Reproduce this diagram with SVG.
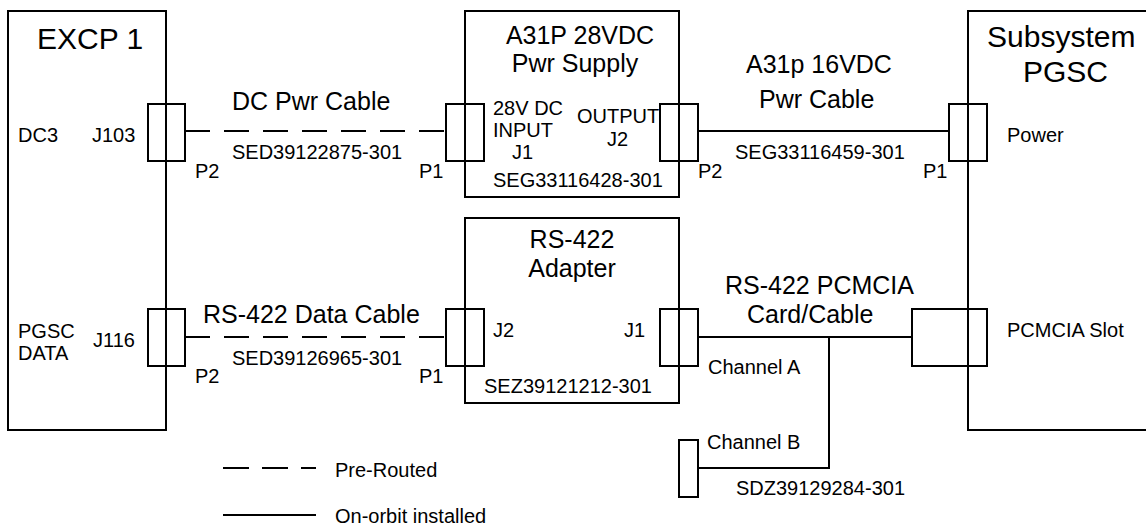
<svg xmlns="http://www.w3.org/2000/svg" width="1146" height="525" viewBox="0 0 1146 525">
<style>
.box{fill:none;stroke:#000;stroke-width:2}
.conn{fill:#fff;stroke:#000;stroke-width:2}
.edge{fill:none;stroke:#000;stroke-width:2}
.dash{stroke-dasharray:25 14}
text{font-family:"Liberation Sans",Arial,sans-serif;fill:#000}
.t{font-size:30px}
.m{font-size:25px}
.s{font-size:20px}
</style>
<rect width="1146" height="525" fill="#fff"/>
<g id="connectors">
<line class="edge dash" x1="185" y1="131" x2="446" y2="131"/>
<line class="edge" x1="698" y1="131" x2="949" y2="131"/>
<line class="edge dash" x1="185" y1="337" x2="446" y2="337"/>
<polyline class="edge" points="698,337 912,337"/>
<polyline class="edge" points="829,337 829,468 698,468"/>
</g>
<g id="excp1">
<rect class="box" x="8" y="11" width="158" height="419"/>
<text class="t" x="37" y="49">EXCP 1</text>
<text class="s" x="18" y="142">DC3</text>
<text class="s" x="92" y="142">J103</text>
<text class="s" x="18" y="338">PGSC</text>
<text class="s" x="18" y="360">DATA</text>
<text class="s" x="93" y="347">J116</text>
</g>
<g id="psu">
<rect class="box" x="465" y="11" width="214" height="186"/>
<text class="m" x="580" y="44" text-anchor="middle">A31P 28VDC</text>
<text class="m" x="575" y="72" text-anchor="middle">Pwr Supply</text>
<text class="s" x="493" y="115">28V DC</text>
<text class="s" x="493" y="137">INPUT</text>
<text class="s" x="512" y="159">J1</text>
<text class="s" x="577" y="123">OUTPUT</text>
<text class="s" x="607" y="146">J2</text>
<text class="s" x="493" y="187">SEG33116428-301</text>
</g>
<g id="adapter">
<rect class="box" x="465" y="218" width="214" height="185"/>
<text class="m" x="572" y="248" text-anchor="middle">RS-422</text>
<text class="m" x="572" y="277" text-anchor="middle">Adapter</text>
<text class="s" x="493" y="337">J2</text>
<text class="s" x="624" y="337">J1</text>
<text class="s" x="484" y="393">SEZ39121212-301</text>
</g>
<g id="pgsc">
<path class="box" d="M1150,11 H968 V430 H1150"/>
<text class="t" x="987" y="47">Subsystem</text>
<text class="t" x="1023" y="82">PGSC</text>
<text class="s" x="1007" y="142">Power</text>
<text class="s" x="1007" y="337">PCMCIA Slot</text>
</g>
<g id="plugs">
<rect class="conn" x="148" y="104" width="37" height="57"/>
<line class="edge" x1="166" y1="104" x2="166" y2="161"/>
<rect class="conn" x="446" y="104" width="38" height="57"/>
<line class="edge" x1="465" y1="104" x2="465" y2="161"/>
<rect class="conn" x="660" y="104" width="38" height="57"/>
<line class="edge" x1="679" y1="104" x2="679" y2="161"/>
<rect class="conn" x="949" y="104" width="38" height="57"/>
<line class="edge" x1="968" y1="104" x2="968" y2="161"/>
<rect class="conn" x="148" y="309" width="37" height="57"/>
<line class="edge" x1="166" y1="309" x2="166" y2="366"/>
<rect class="conn" x="446" y="309" width="38" height="57"/>
<line class="edge" x1="465" y1="309" x2="465" y2="366"/>
<rect class="conn" x="660" y="309" width="38" height="57"/>
<line class="edge" x1="679" y1="309" x2="679" y2="366"/>
<rect class="conn" x="912" y="309" width="75" height="57"/>
<line class="edge" x1="968" y1="309" x2="968" y2="366"/>
<rect class="conn" x="679" y="440" width="19" height="57"/>
</g>
<g id="labels">
<text class="m" x="232" y="110">DC Pwr Cable</text>
<text class="s" x="232" y="159">SED39122875-301</text>
<text class="s" x="195" y="178">P2</text>
<text class="s" x="419" y="178">P1</text>
<text class="m" x="746" y="73">A31p 16VDC</text>
<text class="m" x="759" y="108">Pwr Cable</text>
<text class="s" x="735" y="159">SEG33116459-301</text>
<text class="s" x="698" y="178">P2</text>
<text class="s" x="923" y="178">P1</text>
<text class="m" x="203" y="323">RS-422 Data Cable</text>
<text class="s" x="232" y="365">SED39126965-301</text>
<text class="s" x="195" y="383">P2</text>
<text class="s" x="419" y="383">P1</text>
<text class="m" x="725" y="294">RS-422 PCMCIA</text>
<text class="m" x="747" y="323">Card/Cable</text>
<text class="s" x="708" y="374">Channel A</text>
<text class="s" x="707" y="449">Channel B</text>
<text class="s" x="736" y="495">SDZ39129284-301</text>
</g>
<g id="legend">
<line class="edge" x1="223" y1="468" x2="316" y2="468" stroke-dasharray="26 13"/>
<text class="s" x="335" y="477">Pre-Routed</text>
<line class="edge" x1="223" y1="515" x2="316" y2="515"/>
<text class="s" x="335" y="523">On-orbit installed</text>
</g>
</svg>
